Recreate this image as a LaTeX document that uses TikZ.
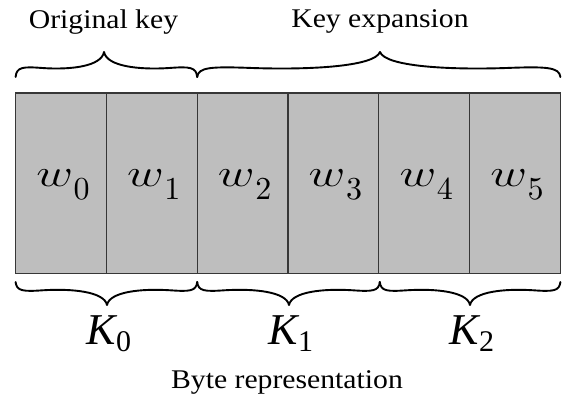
\RequirePackage{fix-cm}
\documentclass[tikz,border=0pt]{standalone}
\usepackage{fontspec}
\usepackage{amsmath}
\usepackage{graphicx}
\newfontfamily\lbfont{Liberation Serif}[FakeStretch=1.1]
\newfontfamily\kfont{Liberation Serif}
\definecolor{cellgray}{RGB}{190,190,190}
\definecolor{edgegray}{RGB}{55,55,55}
\tikzset{
  cell/.style={rectangle, fill=cellgray, draw=edgegray, line width=1.3pt,
    minimum width=90.8pt, minimum height=180.5pt, inner sep=0pt, outer sep=0pt},
  wlab/.style={anchor=base, inner sep=0pt, font=\fontsize{39}{44}\selectfont},
  klab/.style={anchor=base, inner sep=0pt, font=\kfont\fontsize{44}{48}\selectfont\itshape},
  tlab/.style={anchor=base, inner sep=0pt, font=\lbfont\fontsize{27}{30}\selectfont},
  bracestyle/.style={draw=black, line width=1.9pt, line cap=round, line join=round}
}
\newcommand\wsym[1]{\scalebox{1.3}[1]{$w$}\kern0.5pt\raisebox{-13pt}{\scalebox{3.2}{\fontsize{10}{12}\selectfont #1}}}
\newcommand\ksym[1]{K\raisebox{-7pt}{\upshape\fontsize{30}{30}\selectfont #1}}
\newcommand\brc[5]{%
  \draw[bracestyle] (#1,#4)
   .. controls ({#1+1},{#4+0.4*(#5)}) and ({#1+0.08*(#2-#1)},{#4+0.42*(#5)}) .. ({#1+0.3*(#2-#1)},{#4+0.36*(#5)})
   .. controls ({#1+0.62*(#2-#1)},{#4+0.28*(#5)}) and ({#2-0.03*(#2-#1)},{#4+0.42*(#5)}) .. (#2,{#4+(#5)})
   .. controls ({#2+0.03*(#3-#2)},{#4+0.42*(#5)}) and ({#3-0.62*(#3-#2)},{#4+0.28*(#5)}) .. ({#3-0.3*(#3-#2)},{#4+0.36*(#5)})
   .. controls ({#3-0.08*(#3-#2)},{#4+0.42*(#5)}) and ({#3-1},{#4+0.4*(#5)}) .. (#3,#4);}
\begin{document}
\begin{tikzpicture}[x=1pt, y=-1pt]
\useasboundingbox (0,0) rectangle (568,403);
\fill[white] (0,0) rectangle (568,403);
% cells
\node[cell] (c0) at (61.0,183.25) {};
\node[cell] (c1) at (151.8,183.25) {};
\node[cell] (c2) at (242.6,183.25) {};
\node[cell] (c3) at (333.4,183.25) {};
\node[cell] (c4) at (424.2,183.25) {};
\node[cell] (c5) at (515.0,183.25) {};
% word labels
\node[wlab] (w0) at (63.0,187) {\wsym{0}};
\node[wlab] (w1) at (153.8,187) {\wsym{1}};
\node[wlab] (w2) at (244.6,187) {\wsym{2}};
\node[wlab] (w3) at (335.4,187) {\wsym{3}};
\node[wlab] (w4) at (426.2,187) {\wsym{4}};
\node[wlab] (w5) at (517.0,187) {\wsym{5}};
% top braces
\brc{15.6}{104}{197.2}{77}{-25}
\brc{197.2}{380}{560.4}{77}{-25}
% bottom braces
\brc{15.6}{107}{197.2}{282}{23}
\brc{197.2}{289}{379.8}{282}{23}
\brc{379.8}{470}{560.4}{282}{23}
% text labels
\node[tlab] (orig) at (103.5,29) {Original key};
\node[tlab] (exp) at (380,28) {Key expansion};
\node[tlab] (byte) at (287,389) {Byte representation};
\node[klab] (k0) at (109,345) {\ksym{0}};
\node[klab] (k1) at (291,345) {\ksym{1}};
\node[klab] (k2) at (472,345) {\ksym{2}};
\end{tikzpicture}
\end{document}
